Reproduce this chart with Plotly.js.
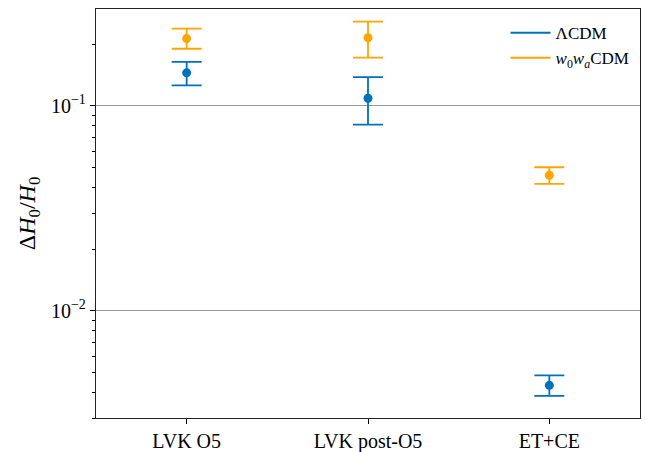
<!DOCTYPE html>
<html><head><meta charset="utf-8">
<script src="https://cdn.plot.ly/plotly-3.0.1.min.js"></script>
<style>html,body{margin:0;padding:0;background:#fff}#chart{width:646px;height:452px}</style>
</head><body><div id="chart"></div>
<script>
const categories = ["LVK O5", "LVK post-O5", "ET+CE"];
const lcdmValues = [0.145, 0.109, 0.00433];
const lcdmUpper  = [0.164, 0.138, 0.00484];
const lcdmLower  = [0.126, 0.081, 0.00385];
const w0waValues = [0.213, 0.215, 0.0459];
const w0waUpper  = [0.238, 0.258, 0.0502];
const w0waLower  = [0.190, 0.172, 0.0416];
const seriesNames = ["\u039bCDM", "<i>w</i><sub>0</sub><i>w</i><sub><i>a</i></sub>CDM"];
const colors = ["#0072BD", "#FFA500"];
const yTickVals = [0.1, 0.01];
const yTickText = ["10<sup>\u22121</sup>", "10<sup>\u22122</sup>"];

const xIdx = categories.map((c, i) => i);
function errTrace(vals, up, lo, color) {
  return {
    type: "scatter", mode: "markers", x: xIdx, y: vals, showlegend: false,
    marker: {color: color, size: 9},
    error_y: {type: "data", symmetric: false,
      array: vals.map((v, i) => up[i] - v),
      arrayminus: vals.map((v, i) => v - lo[i]),
      color: color, thickness: 1.8, width: 15}
  };
}
function legTrace(name, color) {
  return {type: "scatter", mode: "lines", x: [null], y: [null], name: name,
    line: {color: color, width: 2}};
}
const minorVals = [];
[0.001, 0.01, 0.1].forEach(d => { for (let k = 2; k <= 9; k++) minorVals.push(d * k); });

const data = [
  errTrace(lcdmValues, lcdmUpper, lcdmLower, colors[0]),
  errTrace(w0waValues, w0waUpper, w0waLower, colors[1]),
  legTrace(seriesNames[0], colors[0]),
  legTrace(seriesNames[1], colors[1])
];
const font = {family: "'Liberation Serif', 'DejaVu Serif', serif", color: "#000"};
const layout = {
  width: 646, height: 452,
  margin: {l: 96, r: 6, t: 9, b: 34},
  paper_bgcolor: "#fff", plot_bgcolor: "#fff",
  font: Object.assign({size: 20}, font),
  showlegend: true,
  legend: {x: 0.99, y: 0.985, xanchor: "right", yanchor: "top",
    bgcolor: "rgba(0,0,0,0)", font: Object.assign({size: 17}, font),
    tracegroupgap: 0, itemwidth: 40},
  xaxis: {
    range: [-0.5, 2.5], tickmode: "array", tickvals: xIdx, ticktext: categories,
    showgrid: false, zeroline: false, ticks: "outside", ticklen: 5, tickcolor: "#000",
    showline: true, linecolor: "#222", linewidth: 1.2, mirror: true,
    tickfont: Object.assign({size: 20}, font)
  },
  yaxis: {
    type: "log", range: [Math.log10(0.003), Math.log10(0.297)],
    tickmode: "array", tickvals: yTickVals, ticktext: yTickText,
    showgrid: true, gridcolor: "#999", gridwidth: 1, zeroline: false,
    ticks: "outside", ticklen: 5, tickcolor: "#000",
    showline: true, linecolor: "#222", linewidth: 1.2, mirror: true,
    tickfont: Object.assign({size: 20}, font),
    minor: {tickmode: "array", tickvals: minorVals, ticks: "outside", ticklen: 3, tickcolor: "#000", showgrid: false},
    title: {text: "\u0394<i>H</i><sub>0</sub>/<i>H</i><sub>0</sub>", font: Object.assign({size: 24}, font), standoff: 8}
  }
};
Plotly.newPlot("chart", data, layout, {displayModeBar: false, staticPlot: true});
</script></body></html>
